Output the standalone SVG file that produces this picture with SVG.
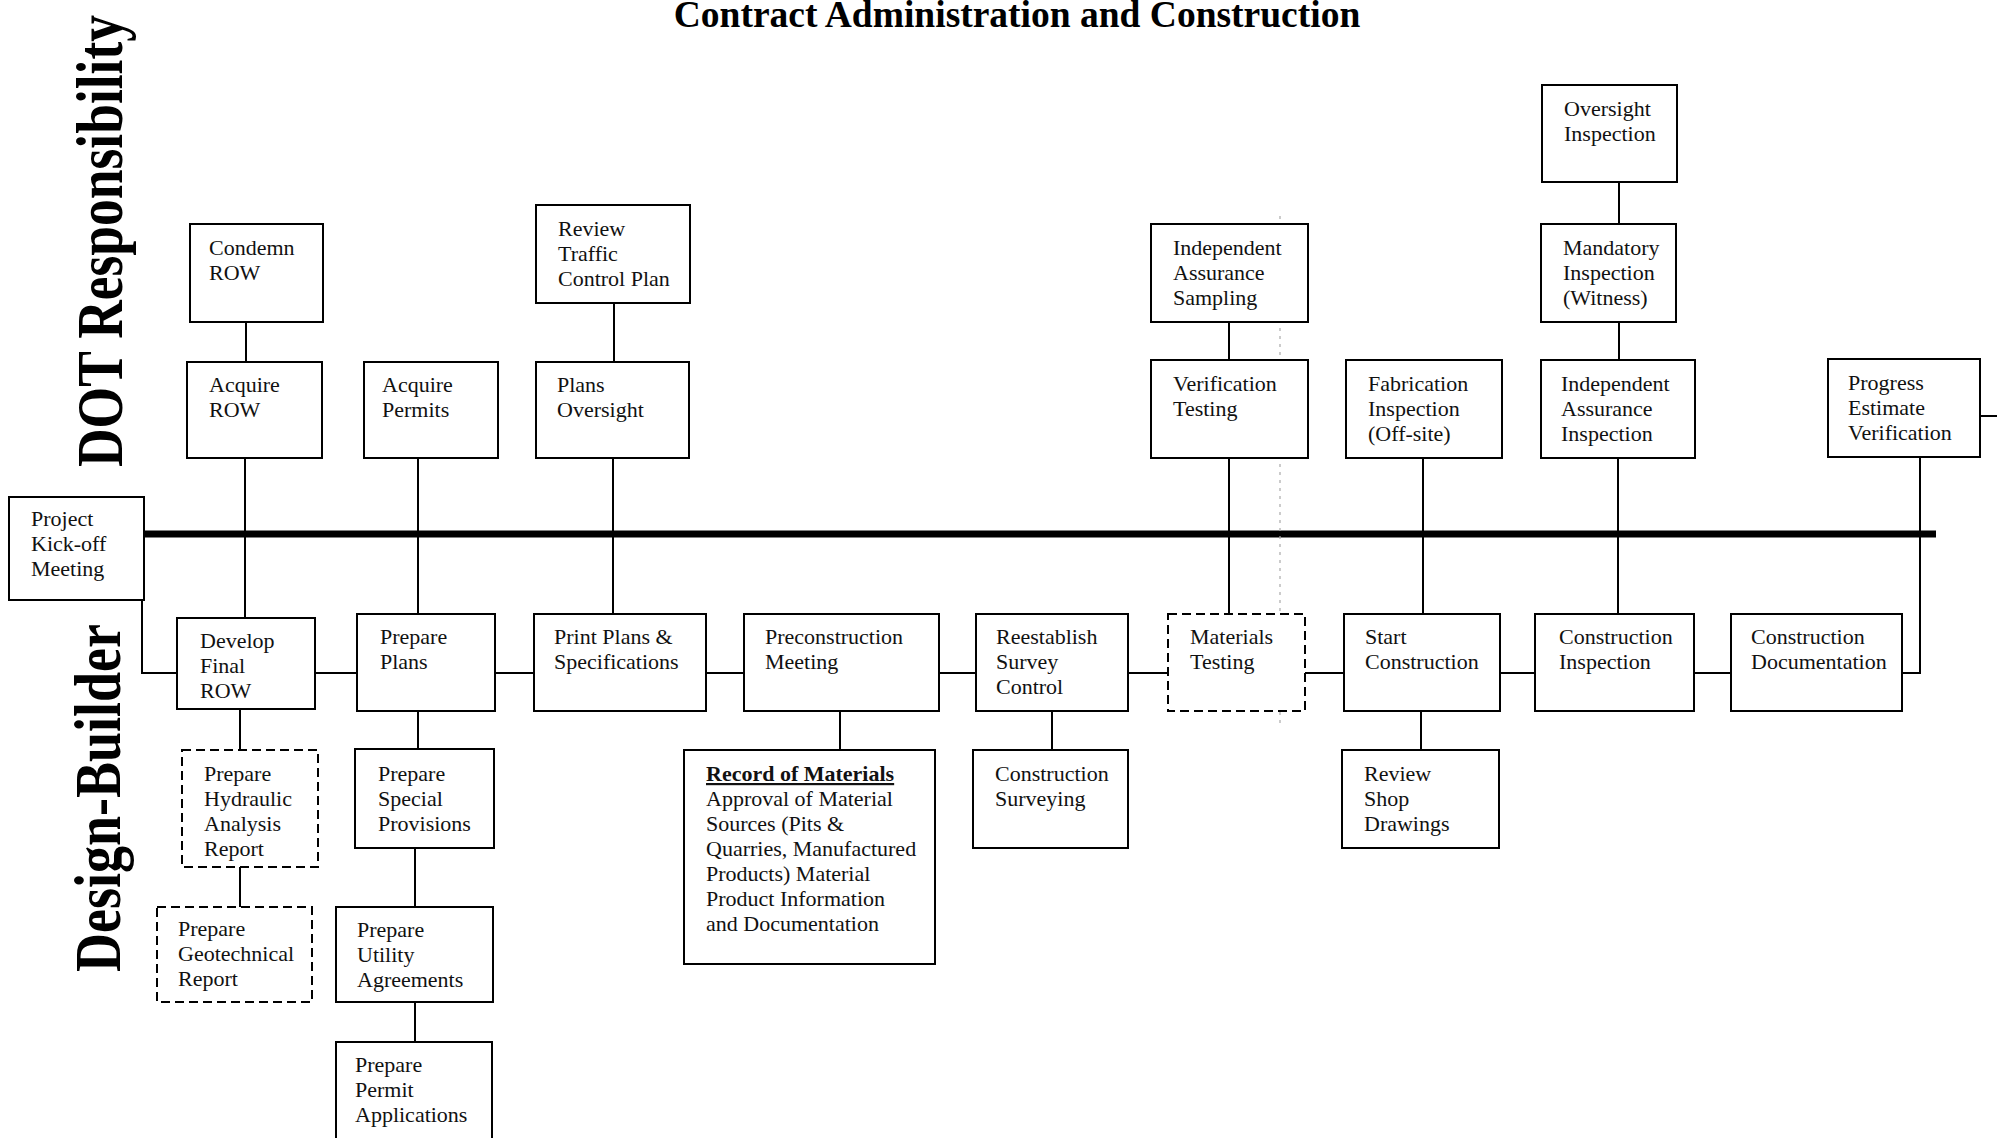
<svg xmlns="http://www.w3.org/2000/svg" width="1997" height="1138" viewBox="0 0 1997 1138">
  <style>
    .box { fill: #fff; stroke: #000; stroke-width: 2; }
    .dash { stroke-dasharray: 9 5; }
    .t { font-family: "Liberation Serif", "Times New Roman", serif; font-size: 22px; fill: #111; }
    .conn { fill: none; stroke: #000; stroke-width: 2; }
    .spine { fill: none; stroke: #000; stroke-width: 7; }
    .lane { font-family: "Liberation Serif", "Times New Roman", serif; font-size: 66px; font-weight: bold; fill: #000; }
    .title { font-family: "Liberation Serif", "Times New Roman", serif; font-size: 37.5px; font-weight: bold; fill: #000; }
  </style>
  <rect width="1997" height="1138" fill="#fff"/>

  <!-- heading and swimlane labels -->
  <text class="title" x="1017" y="27" text-anchor="middle">Contract Administration and Construction</text>
  <text class="lane" transform="translate(122,241) rotate(-90)" text-anchor="middle" textLength="452" lengthAdjust="spacingAndGlyphs">DOT Responsibility</text>
  <text class="lane" transform="translate(120,798) rotate(-90)" text-anchor="middle" textLength="348" lengthAdjust="spacingAndGlyphs">Design-Builder</text>

  <!-- connectors -->
  <g id="connectors">
    <path class="spine" d="M144 534 H1936"/>
    <path class="conn" d="M246 322 V362"/>
    <path class="conn" d="M245 458 V618"/>
    <path class="conn" d="M418 458 V614"/>
    <path class="conn" d="M614 303 V362"/>
    <path class="conn" d="M613 458 V614"/>
    <path class="conn" d="M1229 322 V360"/>
    <path class="conn" d="M1229 458 V614"/>
    <path class="conn" d="M1423 458 V614"/>
    <path class="conn" d="M1619 182 V224"/>
    <path class="conn" d="M1619 322 V360"/>
    <path class="conn" d="M1618 458 V614"/>
    <path class="conn" d="M1920 457 V673 H1902"/>
    <path class="conn" d="M1980 416 H1997"/>
    <path class="conn" d="M142 600 V673 H177"/>
    <path class="conn" d="M315 673 H357"/>
    <path class="conn" d="M495 673 H534"/>
    <path class="conn" d="M706 673 H744"/>
    <path class="conn" d="M939 673 H976"/>
    <path class="conn" d="M1128 673 H1168"/>
    <path class="conn" d="M1305 673 H1344"/>
    <path class="conn" d="M1500 673 H1535"/>
    <path class="conn" d="M1694 673 H1731"/>
    <path class="conn" d="M240 709 V750"/>
    <path class="conn" d="M240 867 V907"/>
    <path class="conn" d="M418 711 V749"/>
    <path class="conn" d="M415 848 V907"/>
    <path class="conn" d="M415 1002 V1042"/>
    <path class="conn" d="M840 711 V750"/>
    <path class="conn" d="M1052 711 V750"/>
    <path class="conn" d="M1421 711 V750"/>
    <!-- faint dotted guide through the testing column -->
    <path d="M1280 216 V726" fill="none" stroke="#aaa" stroke-width="1.2" stroke-dasharray="3 5"/>
  </g>

  <!-- DOT responsibility nodes -->
  <g id="condemn-row">
    <rect class="box" x="190" y="224" width="133" height="98"/>
    <text class="t" x="209" y="255"><tspan x="209">Condemn</tspan><tspan x="209" dy="25">ROW</tspan></text>
  </g>
  <g id="acquire-row">
    <rect class="box" x="187" y="362" width="135" height="96"/>
    <text class="t" x="209" y="392"><tspan x="209">Acquire</tspan><tspan x="209" dy="25">ROW</tspan></text>
  </g>
  <g id="acquire-permits">
    <rect class="box" x="364" y="362" width="134" height="96"/>
    <text class="t" x="382" y="392"><tspan x="382">Acquire</tspan><tspan x="382" dy="25">Permits</tspan></text>
  </g>
  <g id="review-tcp">
    <rect class="box" x="536" y="205" width="154" height="98"/>
    <text class="t" x="558" y="236"><tspan x="558">Review</tspan><tspan x="558" dy="25">Traffic</tspan><tspan x="558" dy="25">Control Plan</tspan></text>
  </g>
  <g id="plans-oversight">
    <rect class="box" x="536" y="362" width="153" height="96"/>
    <text class="t" x="557" y="392"><tspan x="557">Plans</tspan><tspan x="557" dy="25">Oversight</tspan></text>
  </g>
  <g id="ia-sampling">
    <rect class="box" x="1151" y="224" width="157" height="98"/>
    <text class="t" x="1173" y="255"><tspan x="1173">Independent</tspan><tspan x="1173" dy="25">Assurance</tspan><tspan x="1173" dy="25">Sampling</tspan></text>
  </g>
  <g id="verification-testing">
    <rect class="box" x="1151" y="360" width="157" height="98"/>
    <text class="t" x="1173" y="391"><tspan x="1173">Verification</tspan><tspan x="1173" dy="25">Testing</tspan></text>
  </g>
  <g id="fabrication-inspection">
    <rect class="box" x="1346" y="360" width="156" height="98"/>
    <text class="t" x="1368" y="391"><tspan x="1368">Fabrication</tspan><tspan x="1368" dy="25">Inspection</tspan><tspan x="1368" dy="25">(Off-site)</tspan></text>
  </g>
  <g id="oversight-inspection">
    <rect class="box" x="1542" y="85" width="135" height="97"/>
    <text class="t" x="1564" y="116"><tspan x="1564">Oversight</tspan><tspan x="1564" dy="25">Inspection</tspan></text>
  </g>
  <g id="mandatory-inspection">
    <rect class="box" x="1541" y="224" width="135" height="98"/>
    <text class="t" x="1563" y="255"><tspan x="1563">Mandatory</tspan><tspan x="1563" dy="25">Inspection</tspan><tspan x="1563" dy="25">(Witness)</tspan></text>
  </g>
  <g id="ia-inspection">
    <rect class="box" x="1541" y="360" width="154" height="98"/>
    <text class="t" x="1561" y="391"><tspan x="1561">Independent</tspan><tspan x="1561" dy="25">Assurance</tspan><tspan x="1561" dy="25">Inspection</tspan></text>
  </g>
  <g id="progress-estimate">
    <rect class="box" x="1828" y="359" width="152" height="98"/>
    <text class="t" x="1848" y="390"><tspan x="1848">Progress</tspan><tspan x="1848" dy="25">Estimate</tspan><tspan x="1848" dy="25">Verification</tspan></text>
  </g>

  <!-- kick-off -->
  <g id="kickoff">
    <rect class="box" x="9" y="497" width="135" height="103"/>
    <text class="t" x="31" y="526"><tspan x="31">Project</tspan><tspan x="31" dy="25">Kick-off</tspan><tspan x="31" dy="25">Meeting</tspan></text>
  </g>

  <!-- design-builder main sequence -->
  <g id="develop-final-row">
    <rect class="box" x="177" y="618" width="138" height="91"/>
    <text class="t" x="200" y="648"><tspan x="200">Develop</tspan><tspan x="200" dy="25">Final</tspan><tspan x="200" dy="25">ROW</tspan></text>
  </g>
  <g id="prepare-plans">
    <rect class="box" x="357" y="614" width="138" height="97"/>
    <text class="t" x="380" y="644"><tspan x="380">Prepare</tspan><tspan x="380" dy="25">Plans</tspan></text>
  </g>
  <g id="print-plans">
    <rect class="box" x="534" y="614" width="172" height="97"/>
    <text class="t" x="554" y="644"><tspan x="554">Print Plans &amp;</tspan><tspan x="554" dy="25">Specifications</tspan></text>
  </g>
  <g id="preconstruction-meeting">
    <rect class="box" x="744" y="614" width="195" height="97"/>
    <text class="t" x="765" y="644"><tspan x="765">Preconstruction</tspan><tspan x="765" dy="25">Meeting</tspan></text>
  </g>
  <g id="reestablish-survey">
    <rect class="box" x="976" y="614" width="152" height="97"/>
    <text class="t" x="996" y="644"><tspan x="996">Reestablish</tspan><tspan x="996" dy="25">Survey</tspan><tspan x="996" dy="25">Control</tspan></text>
  </g>
  <g id="materials-testing">
    <rect class="box dash" x="1168" y="614" width="137" height="97"/>
    <text class="t" x="1190" y="644"><tspan x="1190">Materials</tspan><tspan x="1190" dy="25">Testing</tspan></text>
  </g>
  <g id="start-construction">
    <rect class="box" x="1344" y="614" width="156" height="97"/>
    <text class="t" x="1365" y="644"><tspan x="1365">Start</tspan><tspan x="1365" dy="25">Construction</tspan></text>
  </g>
  <g id="construction-inspection">
    <rect class="box" x="1535" y="614" width="159" height="97"/>
    <text class="t" x="1559" y="644"><tspan x="1559">Construction</tspan><tspan x="1559" dy="25">Inspection</tspan></text>
  </g>
  <g id="construction-documentation">
    <rect class="box" x="1731" y="614" width="171" height="97"/>
    <text class="t" x="1751" y="644"><tspan x="1751">Construction</tspan><tspan x="1751" dy="25">Documentation</tspan></text>
  </g>

  <!-- design-builder supporting tasks -->
  <g id="hydraulic-report">
    <rect class="box dash" x="182" y="750" width="136" height="117"/>
    <text class="t" x="204" y="781"><tspan x="204">Prepare</tspan><tspan x="204" dy="25">Hydraulic</tspan><tspan x="204" dy="25">Analysis</tspan><tspan x="204" dy="25">Report</tspan></text>
  </g>
  <g id="geotechnical-report">
    <rect class="box dash" x="157" y="907" width="155" height="95"/>
    <text class="t" x="178" y="936"><tspan x="178">Prepare</tspan><tspan x="178" dy="25">Geotechnical</tspan><tspan x="178" dy="25">Report</tspan></text>
  </g>
  <g id="special-provisions">
    <rect class="box" x="355" y="749" width="139" height="99"/>
    <text class="t" x="378" y="781"><tspan x="378">Prepare</tspan><tspan x="378" dy="25">Special</tspan><tspan x="378" dy="25">Provisions</tspan></text>
  </g>
  <g id="utility-agreements">
    <rect class="box" x="336" y="907" width="157" height="95"/>
    <text class="t" x="357" y="937"><tspan x="357">Prepare</tspan><tspan x="357" dy="25">Utility</tspan><tspan x="357" dy="25">Agreements</tspan></text>
  </g>
  <g id="permit-applications">
    <rect class="box" x="336" y="1042" width="156" height="104"/>
    <text class="t" x="355" y="1072"><tspan x="355">Prepare</tspan><tspan x="355" dy="25">Permit</tspan><tspan x="355" dy="25">Applications</tspan></text>
  </g>
  <g id="record-of-materials">
    <rect class="box" x="684" y="750" width="251" height="214"/>
    <text class="t" x="706" y="781"><tspan x="706" font-weight="bold" text-decoration="underline">Record of Materials</tspan><tspan x="706" dy="25">Approval of Material</tspan><tspan x="706" dy="25">Sources (Pits &amp;</tspan><tspan x="706" dy="25">Quarries, Manufactured</tspan><tspan x="706" dy="25">Products) Material</tspan><tspan x="706" dy="25">Product Information</tspan><tspan x="706" dy="25">and Documentation</tspan></text>
  </g>
  <g id="construction-surveying">
    <rect class="box" x="973" y="750" width="155" height="98"/>
    <text class="t" x="995" y="781"><tspan x="995">Construction</tspan><tspan x="995" dy="25">Surveying</tspan></text>
  </g>
  <g id="review-shop-drawings">
    <rect class="box" x="1342" y="750" width="157" height="98"/>
    <text class="t" x="1364" y="781"><tspan x="1364">Review</tspan><tspan x="1364" dy="25">Shop</tspan><tspan x="1364" dy="25">Drawings</tspan></text>
  </g>
</svg>
